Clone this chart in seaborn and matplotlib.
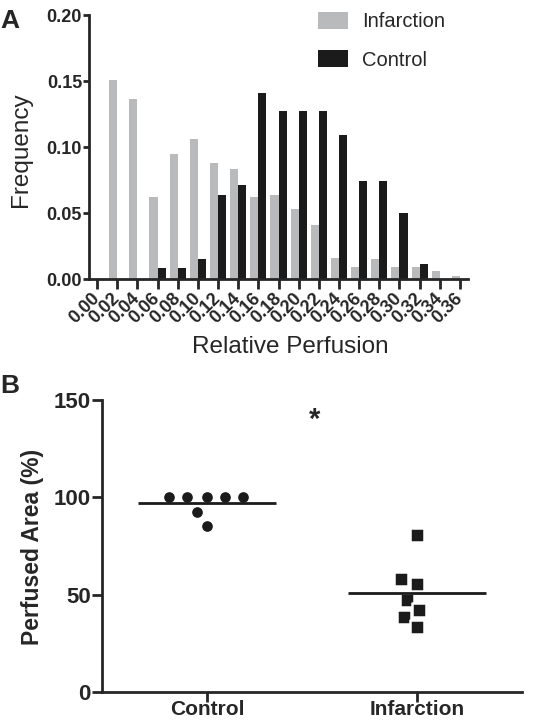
import numpy as np
import pandas as pd
import matplotlib
matplotlib.use("Agg")
import matplotlib.pyplot as plt
import seaborn as sns

# panel A: relative perfusion histogram
bins = ["0.00", "0.02", "0.04", "0.06", "0.08", "0.10", "0.12", "0.14", "0.16", "0.18",
        "0.20", "0.22", "0.24", "0.26", "0.28", "0.30", "0.32", "0.34", "0.36"]
infarction_freq = [0.000, 0.151, 0.136, 0.062, 0.095, 0.106, 0.088, 0.083, 0.062, 0.064,
                   0.053, 0.041, 0.016, 0.009, 0.015, 0.009, 0.009, 0.006, 0.002]
control_freq = [0.000, 0.000, 0.000, 0.008, 0.008, 0.015, 0.064, 0.071, 0.141, 0.127,
                0.127, 0.127, 0.109, 0.0745, 0.0745, 0.050, 0.011, 0.000, 0.000]

# panel B: perfused area per animal
groups = ["Control", "Infarction"]
control_area = [100, 100, 100, 100, 100, 92.6, 85.4]
infarction_area = [80.9, 57.8, 55.7, 47.5, 42.0, 38.6, 33.4]

GRAY = "#b9babc"
BLACK = "#1b1b1b"

sns.set_style("ticks")
plt.rcParams["font.family"] = ["Liberation Sans", "DejaVu Sans"]
plt.rcParams["axes.linewidth"] = 2.0

fig = plt.figure(figsize=(5.44, 7.25), dpi=100)

# ---- panel A
axA = fig.add_axes([89 / 544, 1 - 279 / 725, 379 / 544, 264 / 725])
hist_df = pd.DataFrame({
    "bin": bins * 2,
    "freq": infarction_freq + control_freq,
    "group": ["Infarction"] * len(bins) + ["Control"] * len(bins),
})
sns.barplot(data=hist_df, x="bin", y="freq", hue="group", order=bins,
            hue_order=["Infarction", "Control"], palette=[GRAY, BLACK],
            width=0.8, linewidth=0, saturation=1, ax=axA)
axA.set_xlim(-0.4, len(bins) - 0.6)
axA.set_ylim(0, 0.20)
axA.set_yticks([0.00, 0.05, 0.10, 0.15, 0.20])
axA.set_yticklabels(["0.00", "0.05", "0.10", "0.15", "0.20"], fontsize=13, fontweight="bold")
axA.set_xticks(range(len(bins)))
axA.set_xticklabels(bins, rotation=45, ha="right", va="center", rotation_mode="anchor",
                    fontsize=13, fontweight="bold")
axA.tick_params(axis="y", length=4, width=2, pad=1)
axA.tick_params(axis="x", length=7, width=2, pad=5)
sns.despine(ax=axA)
axA.set_ylabel("Frequency", fontsize=17.5)
axA.yaxis.set_label_coords(-0.150, 0.49)
axA.set_xlabel("Relative Perfusion", fontsize=17.5)
axA.xaxis.set_label_coords(0.53, -0.215)
sns.move_legend(axA, "upper left", bbox_to_anchor=(318 / 544, 1 - 12 / 725),
                bbox_transform=fig.transFigure, frameon=False, title=None,
                fontsize=14.5, handlelength=1.5, handleheight=0.9,
                labelspacing=0.95, handletextpad=0.7, borderpad=0, borderaxespad=0)
fig.text(0.0, 1 - 9 / 725, "A", fontsize=19, fontweight="bold", va="top", ha="left")

# ---- panel B
axB = fig.add_axes([102 / 544, 1 - 692 / 725, 420 / 544, 292 / 725])
area_df = pd.DataFrame({
    "group": ["Control"] * len(control_area) + ["Infarction"] * len(infarction_area),
    "area": control_area + infarction_area,
})
sns.swarmplot(data=area_df[area_df["group"] == "Control"], x="group", y="area",
              order=groups, color=BLACK, marker="o", size=10.0, linewidth=2.3,
              edgecolor="white", ax=axB)
sns.swarmplot(data=area_df[area_df["group"] == "Infarction"], x="group", y="area",
              order=groups, color=BLACK, marker="s", size=9.5, linewidth=1.8,
              edgecolor="white", ax=axB)
means = area_df.groupby("group")["area"].mean().reindex(groups)
for i, m in enumerate(means):
    axB.hlines(m, i - 0.33, i + 0.33, color=BLACK, linewidth=2, zorder=5)
axB.set_xlim(-0.5, 1.5)
axB.set_ylim(0, 150)
axB.set_yticks([0, 50, 100, 150])
axB.set_yticklabels(["0", "50", "100", "150"], fontsize=16, fontweight="bold")
axB.set_xticks([0, 1])
axB.set_xticklabels(groups, fontsize=15, fontweight="bold")
axB.tick_params(axis="y", length=7, width=2, pad=1)
axB.tick_params(axis="x", length=7, width=2, pad=-1)
sns.despine(ax=axB)
axB.set_xlabel("")
axB.set_ylabel("Perfused Area (%)", fontsize=16.5, fontweight="bold")
axB.yaxis.set_label_coords(-0.138, 0.497)
axB.text(0.514, 140, "*", fontsize=21, fontweight="bold", ha="center", va="center")
fig.text(0.0, 1 - 374 / 725, "B", fontsize=19, fontweight="bold", va="top", ha="left")

fig.savefig("out.png", dpi=100, facecolor="white")
